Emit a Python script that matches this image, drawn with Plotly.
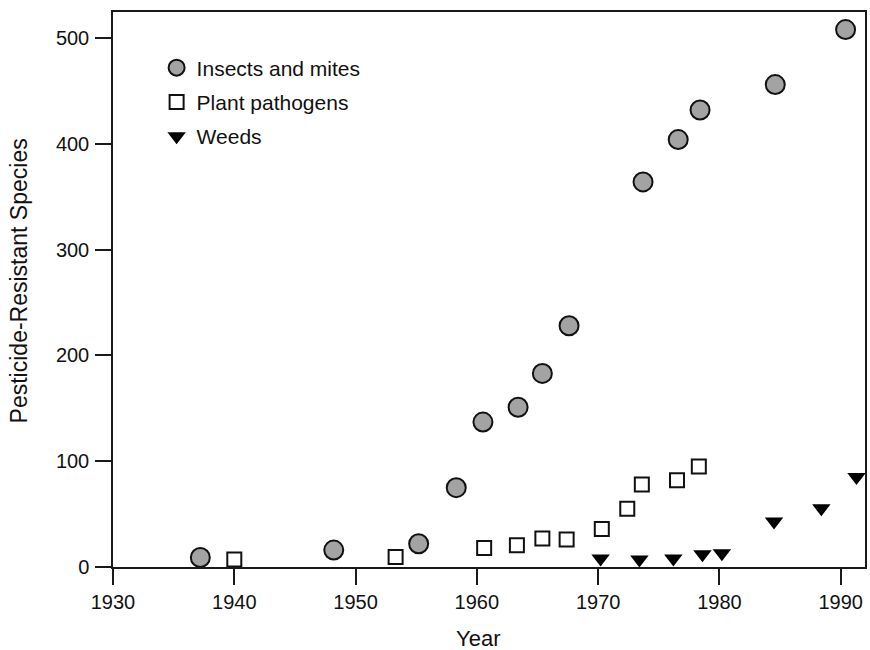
import plotly.graph_objects as go

# Insects and mites
insect_years = [1937.2, 1948.2, 1955.2, 1958.3, 1960.5, 1963.4, 1965.4, 1967.6, 1973.7, 1976.6, 1978.4, 1984.6, 1990.4]
insect_counts = [9, 16, 22, 75, 137, 151, 183, 228, 364, 404, 432, 456, 508]

# Plant pathogens
pathogen_years = [1940.0, 1953.3, 1960.6, 1963.3, 1965.4, 1967.4, 1970.3, 1972.4, 1973.6, 1976.5, 1978.3]
pathogen_counts = [7, 9.5, 18, 20.5, 27, 26, 36, 55, 78, 82, 95]

# Weeds
weed_years = [1970.2, 1973.4, 1976.2, 1978.6, 1980.2, 1984.5, 1988.4, 1991.3]
weed_counts = [8, 7, 8, 12, 13, 43, 55.5, 85]

x_ticks = [1930, 1940, 1950, 1960, 1970, 1980, 1990]
y_ticks = [0, 100, 200, 300, 400, 500]

FONT = "Liberation Sans, Arial, Helvetica, sans-serif"
AX = "#1a1a1a"

fig = go.Figure()
fig.add_trace(go.Scatter(
    x=insect_years, y=insect_counts, mode="markers", name="Insects and mites",
    legendgroup="a",
    marker=dict(symbol="circle", size=19, color="#a3a3a3", line=dict(color="#111", width=2)),
    cliponaxis=False))
fig.add_trace(go.Scatter(
    x=pathogen_years, y=pathogen_counts, mode="markers", name="Plant pathogens",
    legendgroup="b",
    marker=dict(symbol="square", size=14, color="white", line=dict(color="#111", width=2)),
    cliponaxis=False))
fig.add_trace(go.Scatter(
    x=weed_years, y=weed_counts, mode="markers", name="Weeds",
    legendgroup="c",
    marker=dict(symbol="triangle-down", size=16, color="#000", line=dict(color="#000", width=0)),
    cliponaxis=False))

fig.update_layout(
    width=870, height=650,
    margin=dict(l=113, r=3, t=12, b=83),
    paper_bgcolor="white", plot_bgcolor="white",
    font=dict(family=FONT, size=20, color="#111"),
    showlegend=True,
    hovermode=False,
    legend=dict(x=0.058, y=0.936, xanchor="left", yanchor="top",
                bgcolor="rgba(0,0,0,0)", font=dict(size=21),
                tracegroupgap=4, itemsizing="trace"),
    xaxis=dict(range=[1930, 1992], tickvals=x_ticks, ticks="outside", ticklen=16,
               tickwidth=1.5, tickcolor=AX, showline=True, linecolor=AX, linewidth=1.5,
               mirror=True, showgrid=False, zeroline=False),
    yaxis=dict(range=[0, 524.6], tickvals=y_ticks, ticks="outside", ticklen=16,
               tickwidth=1.5, tickcolor=AX, showline=True, linecolor=AX, linewidth=1.5,
               mirror=True, showgrid=False, zeroline=False, ticklabelstandoff=2),
    annotations=[
        dict(text="Year", xref="paper", yref="paper", x=0.485, y=-0.128,
             xanchor="center", yanchor="middle", showarrow=False, font=dict(size=22)),
        dict(text="Pesticide-Resistant Species", xref="paper", yref="paper", x=-0.1247, y=0.515,
             xanchor="center", yanchor="middle", textangle=-90, showarrow=False,
             font=dict(size=23)),
    ],
)

fig.write_html("out.html",
               config={"displayModeBar": False},
               post_script="document.body.style.margin='0';document.body.style.overflow='hidden';")
